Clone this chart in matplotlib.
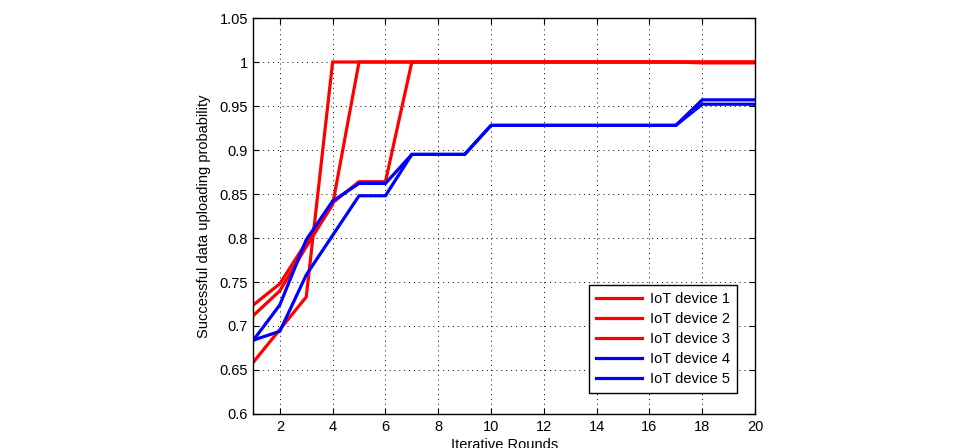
import matplotlib
matplotlib.use("Agg")
import matplotlib.pyplot as plt

plt.rcParams['font.family'] = ['Liberation Sans', 'DejaVu Sans']

rounds = list(range(1, 21))
dev1 = [0.659, 0.696, 0.733, 1.0, 1.0, 1.0, 1.0, 1.0, 1.0, 1.0,
        1.0, 1.0, 1.0, 1.0, 1.0, 1.0, 1.0, 0.999, 0.999, 0.999]
dev2 = [0.712, 0.740, 0.790, 0.838, 1.0, 1.0, 1.0, 1.0, 1.0, 1.0,
        1.0, 1.0, 1.0, 1.0, 1.0, 1.0, 1.0, 1.0, 1.0, 1.0]
dev3 = [0.724, 0.748, 0.795, 0.840, 0.864, 0.864, 1.0, 1.0, 1.0, 1.0,
        1.0, 1.0, 1.0, 1.0, 1.0, 1.0, 1.0, 1.0, 1.0, 1.0]
dev4 = [0.684, 0.724, 0.798, 0.842, 0.862, 0.862, 0.895, 0.895, 0.895, 0.928,
        0.928, 0.928, 0.928, 0.928, 0.928, 0.928, 0.928, 0.957, 0.957, 0.957]
dev5 = [0.684, 0.694, 0.758, 0.803, 0.848, 0.848, 0.895, 0.895, 0.895, 0.928,
        0.928, 0.928, 0.928, 0.928, 0.928, 0.928, 0.928, 0.952, 0.952, 0.952]
labels = ['IoT device 1', 'IoT device 2', 'IoT device 3', 'IoT device 4', 'IoT device 5']
colors = ['#ff0000', '#ff0000', '#ff0000', '#0000ff', '#0000ff']
xticks = list(range(2, 21, 2))
yticks = [0.6, 0.65, 0.7, 0.75, 0.8, 0.85, 0.9, 0.95, 1.0, 1.05]
yticklabels = ['0.6', '0.65', '0.7', '0.75', '0.8', '0.85', '0.9', '0.95', '1', '1.05']

fig = plt.figure(figsize=(9.6, 4.48), dpi=100)
ax = fig.add_axes([0.264, 0.0759, 0.5225, 0.8839])

for d, lab, c in zip([dev1, dev2, dev3, dev4, dev5], labels, colors):
    ax.plot(rounds, d, color=c, lw=2.3, label=lab, solid_joinstyle='miter')

ax.set_xlim(1, 20)
ax.set_ylim(0.6, 1.05)
ax.set_xticks(xticks)
ax.set_yticks(yticks)
ax.set_yticklabels(yticklabels)
ax.tick_params(direction='in', length=4, labelsize=10.5, top=True, right=True, width=0.8, pad=4)
ax.grid(True, linestyle=(0, (1, 4)), color='black', lw=0.7)
for s in ax.spines.values():
    s.set_linewidth(1.0)

ax.set_xlabel('Iterative Rounds', fontsize=10.5, labelpad=3)
ax.set_ylabel('Successful data uploading probability', fontsize=10.5, labelpad=6)

leg = ax.legend(loc='lower right', bbox_to_anchor=(0.964, 0.053), borderaxespad=0,
                fancybox=False, edgecolor='black', framealpha=1, fontsize=10.5,
                handlelength=3.15, handletextpad=0.5, labelspacing=0.4, borderpad=0.5)
leg.get_frame().set_linewidth(1.0)

fig.savefig('out.png', dpi=100)
